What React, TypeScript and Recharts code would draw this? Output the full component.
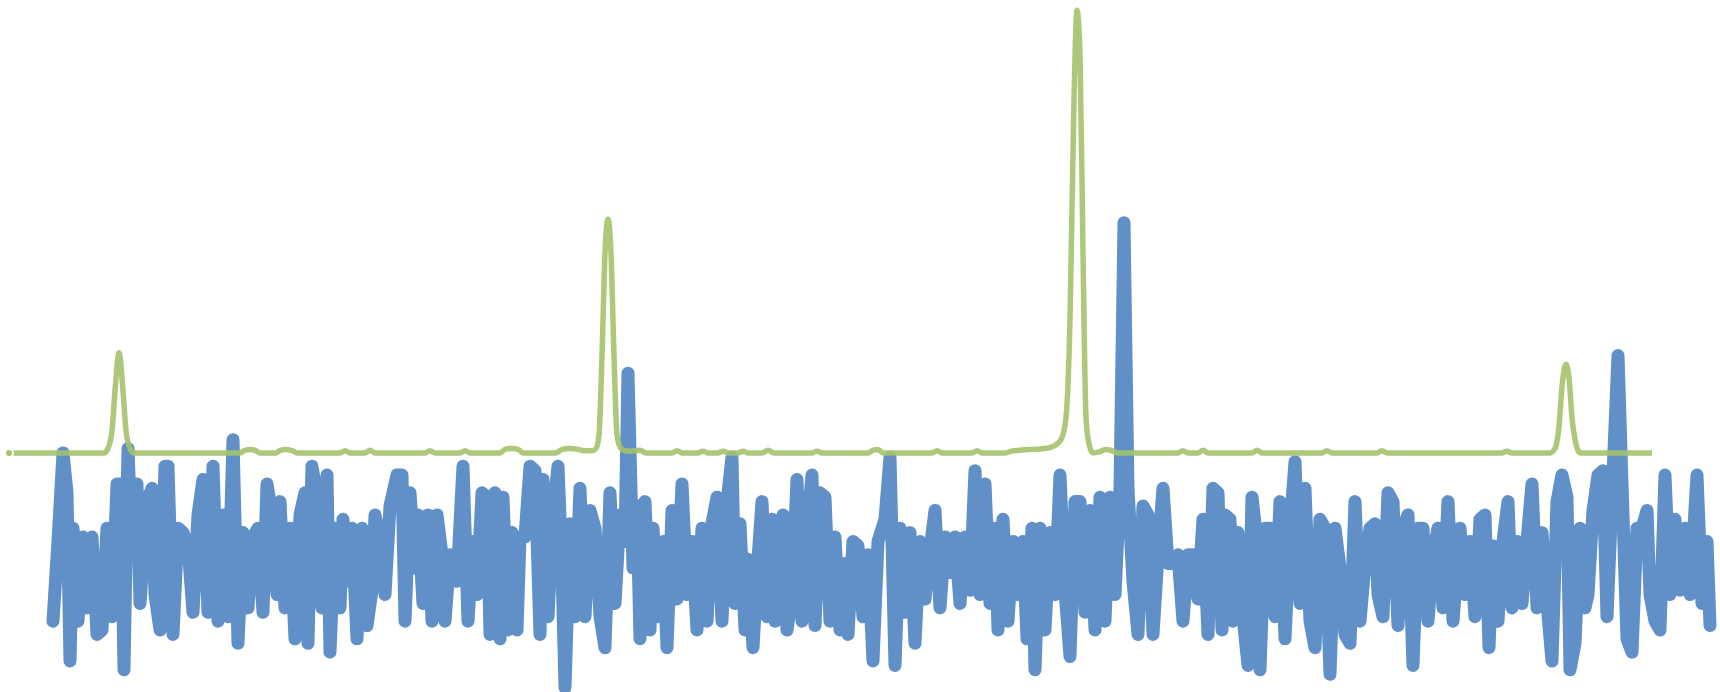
import React from "react";
import { LineChart, Line, XAxis, YAxis } from "recharts";

// channel positions and intensities
const blueChannel = [
  53, 58, 63, 67, 70, 73, 78, 83, 87, 92, 97, 102, 107, 112, 117, 121, 124, 128, 132, 137, 140, 147, 152, 155, 160, 165, 168, 173, 178, 183, 188, 193, 198, 203, 208, 213, 218, 223, 228, 233, 238, 243, 248, 253, 258, 263, 267, 272, 277, 280, 285, 290, 295, 300,
  305, 308, 312, 317, 322, 327, 330, 335, 340, 343, 347, 352, 357, 362, 367, 372, 375, 380, 385, 390, 397, 402, 405, 410, 415, 418, 423, 428, 432, 437, 442, 445, 450, 457, 460, 463, 468, 473, 477, 482, 487, 490, 495, 500, 503, 508, 512, 517, 520, 525, 530, 535, 540, 543, 548, 553, 558, 562, 565, 570, 575, 580, 585, 590,
  595, 600, 605, 610, 615, 620, 625, 628, 633, 637, 640, 645, 650, 653, 658, 663, 667, 672, 677, 682, 687, 692, 697, 702, 707, 712, 717, 722, 727, 732, 735, 740, 745, 748, 753, 758, 762, 767, 772, 775, 778, 783, 787, 792, 797, 802, 807, 812, 815, 820, 825, 830, 835, 840, 845, 848, 853, 858, 863, 868, 873, 878,
  885, 890, 895, 900, 905, 910, 915, 920, 925, 930, 935, 940, 945, 950, 955, 960, 965, 970, 975, 980, 985, 990, 995, 998, 1003, 1008, 1013, 1018, 1023, 1027, 1032, 1035, 1040, 1045, 1050, 1055, 1060, 1065, 1070, 1075, 1080, 1085, 1090, 1095, 1100, 1105, 1110, 1115, 1120, 1124, 1128, 1133, 1138, 1143, 1148, 1153, 1158, 1163, 1168,
  1173, 1178, 1183, 1188, 1193, 1198, 1203, 1208, 1213, 1218, 1222, 1225, 1230, 1233, 1238, 1243, 1248, 1252, 1255, 1260, 1265, 1270, 1275, 1280, 1285, 1290, 1295, 1300, 1305, 1310, 1315, 1320, 1325, 1330, 1335, 1340, 1345, 1350, 1355, 1360, 1365, 1370, 1375, 1378, 1383, 1388, 1393, 1398, 1403, 1408, 1413, 1418, 1423, 1428, 1433, 1438, 1443, 1448, 1453,
  1460, 1465, 1470, 1475, 1480, 1485, 1489, 1493, 1498, 1503, 1508, 1512, 1517, 1522, 1527, 1532, 1537, 1542, 1547, 1552, 1557, 1562, 1567, 1570, 1575, 1580, 1585, 1588, 1593, 1598, 1603, 1607, 1612, 1618, 1622, 1627, 1632, 1637, 1642, 1647, 1650, 1655, 1660, 1665, 1670, 1675, 1680, 1685, 1690, 1697, 1702, 1707, 1710,
];

const blueSignal = [
  -38, -20, 0, -9, -47, -17, -38, -19, -35, -19, -41, -40, -17, -37, -7, -7, -49, 1, -23, -7, -34, -11, -8, -32, -40, -3, -3, -41, -17, -18, -21, -36, -14, -6, -36, -3, -38, -14, -37, 3, -43, -18, -35, -19, -17, -36, -7, -14, -32, -11, -35, -17, -42, -14,
  -9, -43, -3, -10, -35, -5, -45, -17, -35, -15, -29, -17, -42, -17, -39, -31, -14, -20, -32, -12, -5, -5, -38, -9, -26, -14, -34, -14, -38, -14, -23, -38, -23, -29, -16, -3, -38, -20, -32, -9, -10, -41, -9, -42, -10, -40, -18, -40, -19, -19, -3, -4, -41, -6, -37, -14, -3, -26, -53, -16, -37, -8, -37, -13,
  -17, -37, -44, -9, -34, -14, -20, 18, -26, -12, -42, -11, -40, -17, -37, -20, -44, -13, -33, -7, -32, -20, -40, -17, -38, -16, -10, -38, -11, -1, -34, -16, -40, -24, -44, -24, -11, -37, -15, -38, -34, -14, -40, -32, -6, -38, -18, -5, -39, -9, -10, -38, -19, -40, -25, -41, -20, -21, -37, -23, -47, -20,
  -15, -1, -48, -17, -36, -18, -43, -20, -33, -22, -13, -35, -19, -27, -19, -34, -19, -31, -4, -32, -7, -34, -17, -40, -15, -38, -20, -32, -20, -42, -17, -49, -17, -40, -18, -32, -5, -31, -46, -11, -11, -36, -13, -40, -10, -38, -10, -32, -8, 52, -8, -29, -41, -12, -14, -41, -23, -8, -25,
  -25, -23, -38, -23, -23, -33, -15, -41, -8, -9, -40, -14, -15, -38, -18, -37, -48, -10, -16, -49, -17, -17, -37, -11, -42, -17, -2, -34, -8, -38, -44, -15, -17, -50, -17, -26, -41, -43, -11, -38, -25, -17, -16, -32, -37, -9, -11, -39, -17, -14, -48, -17, -17, -38, -23, -17, -35, -11, -38,
  -17, -32, -20, -37, -15, -14, -44, -21, -38, -20, -11, -35, -20, -34, -20, -7, -35, -18, -34, -47, -11, -5, -10, -49, -43, -17, -35, -32, -13, -5, -4, -37, -10, 22, -7, -42, -45, -17, -17, -13, -32, -38, -40, -5, -32, -15, -31, -17, -32, -5, -34, -20, -39,
];

const greenChannel = [
  9, 104, 108, 112, 115, 119, 123, 126, 130, 134, 240, 245, 250, 255, 260, 276, 280, 286, 292, 297, 340, 345, 350, 365, 370, 375, 425, 430, 435, 460, 465, 470, 500, 505, 512, 518, 523, 556, 562, 570, 578, 584,
  592, 596, 599, 602, 605, 608, 611, 614, 617, 621, 625, 630, 640, 646, 672, 677, 682, 698, 703, 708, 718, 723, 728, 738, 743, 748, 762, 768, 774, 812, 817, 822, 868, 873, 878, 883, 932, 937, 942, 972, 977, 982,
  1005, 1013, 1020, 1030, 1040, 1050, 1057, 1062, 1066, 1070, 1074, 1077, 1080, 1083, 1086, 1089, 1093, 1100, 1106, 1112, 1118, 1178, 1183, 1188, 1198, 1203, 1208, 1252, 1257, 1262, 1322, 1327, 1332, 1377, 1382, 1387,
  1502, 1507, 1512, 1550, 1555, 1559, 1562, 1566, 1569, 1572, 1576, 1580, 1652,
];

const greenSignal = [
  0, 0, 1, 5, 14, 22.6, 14, 5, 1, 0, 0, 0.6, 0.8, 0.6, 0, 0, 0.6, 0.8, 0.5, 0, 0, 0.5, 0, 0, 0.6, 0, 0, 0.5, 0, 0, 0.5, 0, 0, 0.8, 1, 0.8, 0, 0, 0.8, 1, 0.8, 0.5,
  0.5, 1, 4, 22, 45, 52.8, 45, 22, 4, 1, 0.5, 0.4, 0.6, 0, 0, 0.5, 0, 0, 0.4, 0, 0, 0.4, 0, 0, 0.4, 0, 0, 0.6, 0, 0, 0.4, 0, 0, 0.6, 0.8, 0, 0, 0.5, 0, 0, 0.5, 0,
  0, 0.5, 0.6, 0.8, 0.9, 1.2, 2, 3.5, 8, 30, 80, 100, 90, 45, 8, 2, 0, 0.3, 0.8, 0.5, 0, 0, 0.5, 0, 0, 0.6, 0, 0, 0.6, 0, 0, 0.5, 0, 0, 0.5, 0,
  0, 0.4, 0, 0, 1, 6, 15, 20, 17, 8, 2, 0, 0,
];

const blueData = blueChannel.map((x, i) => ({ x, y: blueSignal[i] }));
const greenData = greenChannel.map((x, i) => ({ x, y: greenSignal[i] }));

export default function App() {
  return (
    <div
      style={{
        position: "absolute",
        left: 0,
        top: 0,
        width: 1720,
        height: 692,
        background: "#ffffff",
      }}
    >
      <LineChart width={1720} height={692} margin={{ top: 0, right: 0, bottom: 0, left: 0 }}>
        <XAxis type="number" dataKey="x" domain={[0, 1720]} hide allowDataOverflow />
        <YAxis type="number" domain={[-54, 102.3]} hide allowDataOverflow />
        {/* noisy trace */}
        <Line
          data={blueData}
          dataKey="y"
          type="linear"
          stroke="#6090c7"
          strokeWidth={13}
          strokeLinejoin="round"
          strokeLinecap="round"
          dot={false}
          isAnimationActive={false}
        />
        {/* peak trace */}
        <Line
          data={greenData}
          dataKey="y"
          type="monotone"
          stroke="#a4c26c"
          strokeOpacity={0.9}
          strokeWidth={5.5}
          strokeLinejoin="round"
          dot={false}
          isAnimationActive={false}
        />
      </LineChart>
    </div>
  );
}
